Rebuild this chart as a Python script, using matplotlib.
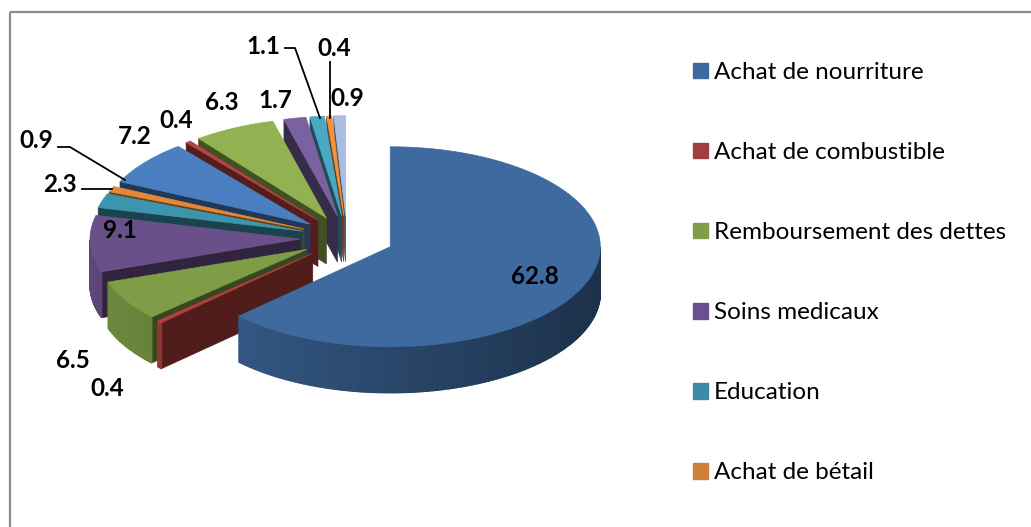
import numpy as np
import matplotlib.pyplot as plt
import matplotlib.colors as mcolors
from matplotlib.patches import Polygon, Rectangle, Patch

# data (clockwise from 12 o'clock)
values = [62.8, 0.4, 6.5, 9.1, 2.3, 0.9, 7.2, 0.4, 6.3, 1.7, 1.1, 0.4, 0.9]
labels = ["Achat de nourriture", "Achat de combustible", "Remboursement des dettes",
          "Soins medicaux", "Education", "Achat de bétail"]
value_text = ["62.8", "0.4", "6.5", "9.1", "2.3", "0.9", "7.2", "0.4", "6.3", "1.7", "1.1", "0.4", "0.9"]

# look of each slice top face, and the legend swatches
top_colors = ["#3E6A9F", "#B5403D", "#7E9D46", "#6A5089", "#3C95AD", "#E0893A",
              "#4A7FC1", "#B84240", "#92B150", "#7A62A0", "#48A8C5", "#F0923E", "#A8BDE0"]
legend_colors = ["#3F6AA0", "#A0403E", "#7E9E48", "#6A5090", "#3C8CA8", "#D07F3A"]

# label positions in pixels
label_xy = [(535, 277), (107, 388), (73, 360), (120, 230), (60, 184), (36, 141),
            (135, 137), (176, 120), (222, 103), (275, 100), (263, 46), (334, 49), (347, 98)]

X0, Y0 = 347, 238     # pie centre (px)
R, K = 210, 0.476     # radius and vertical squash
D = 46                # thickness
E = 47                # explode distance

fig = plt.figure(figsize=(10.31, 5.27), dpi=100)
ax = fig.add_axes([0, 0, 1, 1])
ax.set_xlim(0, 1031)
ax.set_ylim(527, 0)
ax.axis("off")

# chart frame (cut off at right and bottom)
ax.add_patch(Rectangle((10, 12), 1060, 560, fill=False, edgecolor="#8C8C8C", lw=1.6))


def shade(c, f):
    r, g, b = mcolors.to_rgb(c)
    return (r * f, g * f, b * f)


def pt(cx, cy, a, r=R):
    return cx + r * np.cos(a), cy - r * K * np.sin(a)


cum = np.concatenate([[0], np.cumsum(values)])
starts = np.radians(90 - 3.6 * cum[:-1])
ends = np.radians(90 - 3.6 * cum[1:])
mids = (starts + ends) / 2

order = sorted(range(1, len(values)), key=lambda i: -np.sin(mids[i])) + [0]

for i in order:
    a1, a2, m = starts[i], ends[i], mids[i]
    cx = X0 + E * np.cos(m)
    cy = Y0 - E * K * np.sin(m)
    col = top_colors[i]
    c0 = (cx, cy)
    dark = shade(col, 0.45)

    # radial side faces
    for a, vis in ((a1, np.cos(a1) < -1e-6), (a2, np.cos(a2) > 1e-6)):
        if vis:
            p = pt(cx, cy, a)
            ax.add_patch(Polygon([c0, p, (p[0], p[1] + D), (cx, cy + D)],
                                 closed=True, fc=dark, ec=dark, lw=0.5))

    # outer curved side, shaded along the arc
    ts = np.linspace(a1, a2, max(int(abs(a1 - a2) / 0.01), 2))
    front = [t for t in ts if np.sin(t) < 0]
    if len(front) > 1:
        top_pts = [pt(cx, cy, t) for t in front]
        bot_pts = [(x, y + D) for x, y in top_pts[::-1]]
        fm = 0.67 - 0.21 * np.cos(np.mean(front))
        ax.add_patch(Polygon(top_pts + bot_pts, closed=True, fc=shade(col, fm), ec="none"))
        for t1, t2 in zip(front[:-1], front[1:]):
            f = 0.67 - 0.21 * np.cos((t1 + t2) / 2)
            p1, p2 = pt(cx, cy, t1), pt(cx, cy, t2)
            ax.add_patch(Polygon([p1, p2, (p2[0], p2[1] + D), (p1[0], p1[1] + D)],
                                 closed=True, fc=shade(col, f), ec=shade(col, f), lw=1.0))

    # top face
    arc = [pt(cx, cy, t) for t in ts]
    ax.add_patch(Polygon([c0] + arc, closed=True, fc=col, ec=col, lw=0.5))

# value labels
for txt, (x, y) in zip(value_text, label_xy):
    ax.text(x, y, txt, ha="center", va="center", fontsize=17.5, fontweight="bold",
            family="Lato", color="black")

# leader lines
ax.plot([285, 295, 320], [48, 48, 118], color="black", lw=1.3)
ax.plot([330, 330], [62, 118], color="black", lw=1.3)
ax.plot([58, 70, 125], [147, 147, 180], color="black", lw=1.3)
ax.plot([82, 112], [189, 189], color="black", lw=1.3)

handles = [Patch(facecolor=c, edgecolor=c) for c in legend_colors]
leg = ax.legend(handles, labels, loc="upper left", bbox_to_anchor=(693, 62),
                bbox_transform=ax.transData, frameon=False,
                prop={"family": "Lato", "size": 17.5}, handlelength=0.62, handleheight=0.62,
                handletextpad=0.25, labelspacing=2.43, borderpad=0, borderaxespad=0)

fig.savefig("out.png", dpi=100)
